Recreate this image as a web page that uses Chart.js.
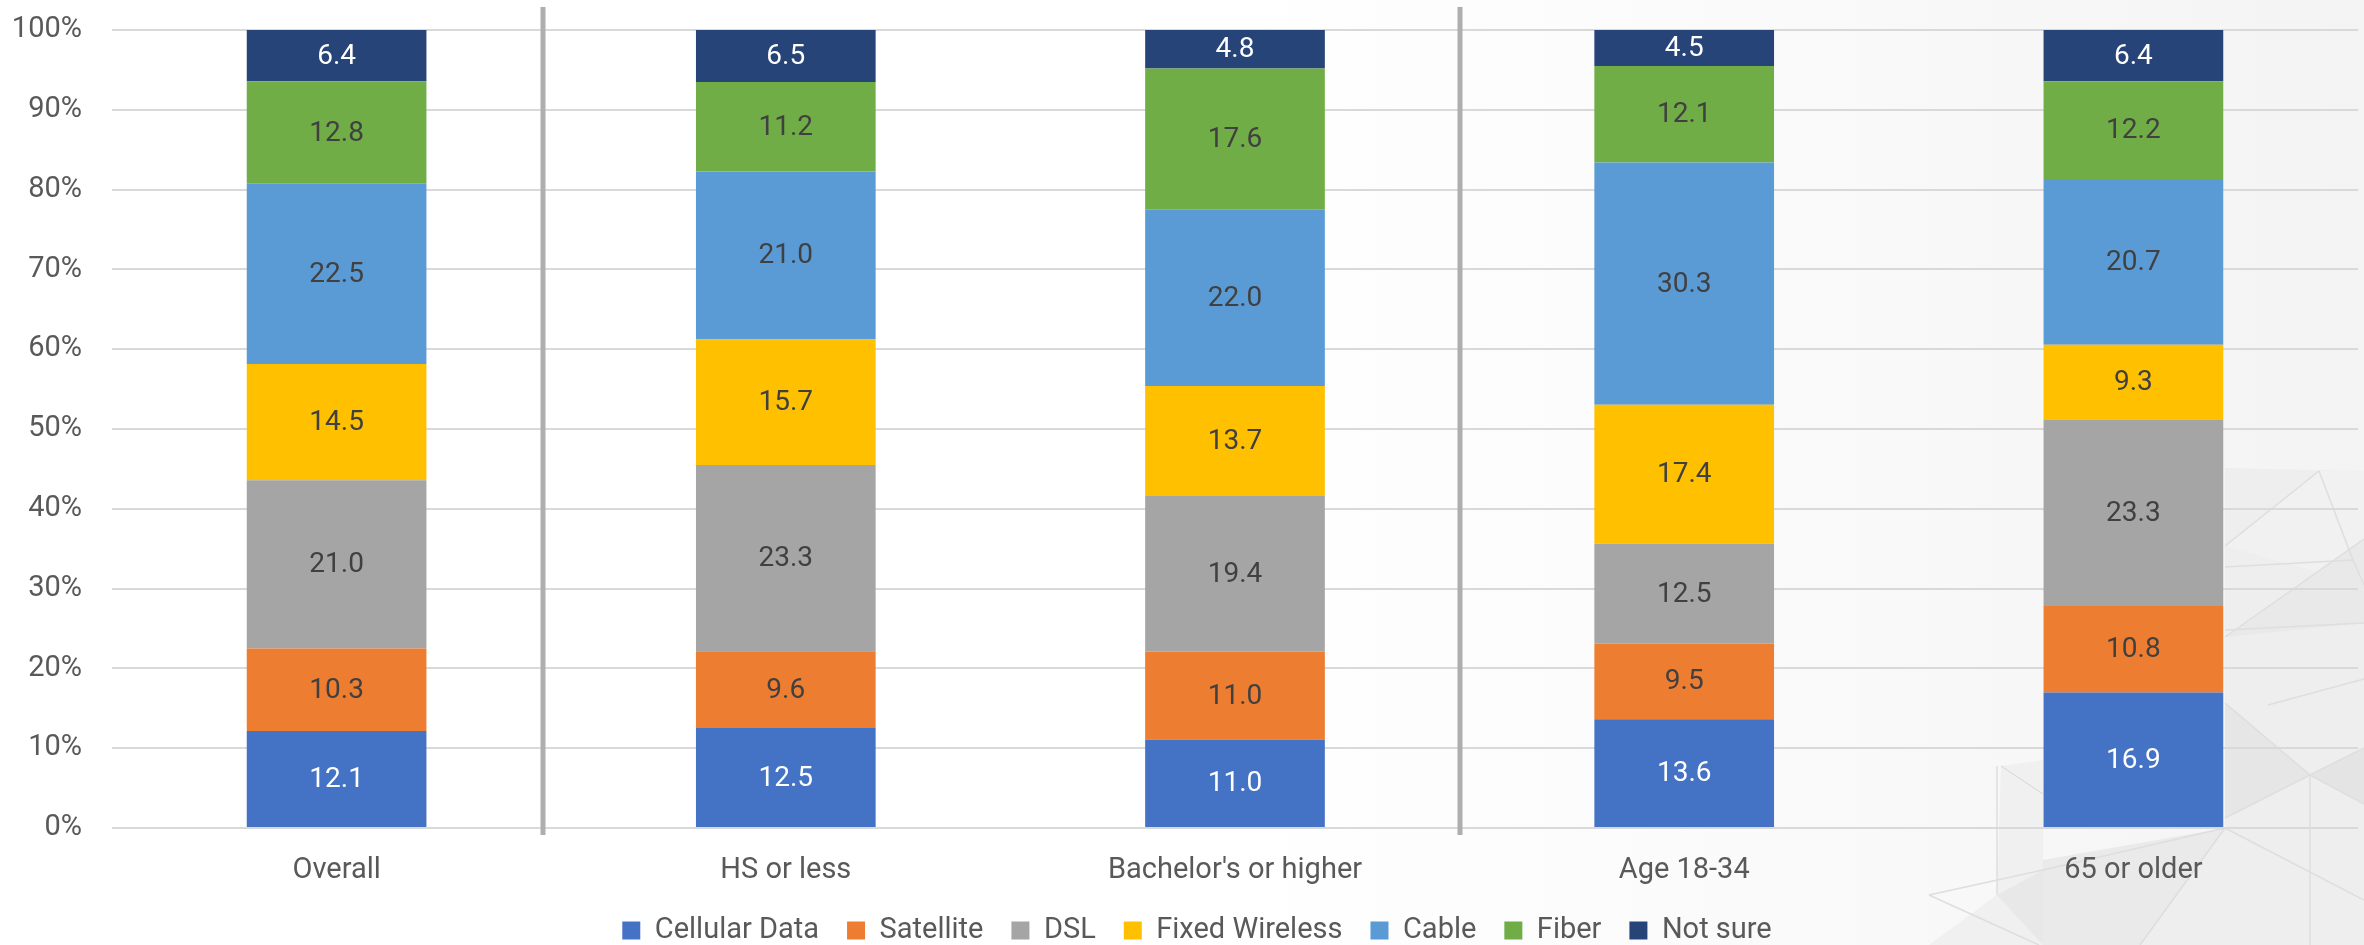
<!DOCTYPE html>
<html>
<head>
<meta charset="utf-8">
<script src="https://cdn.jsdelivr.net/npm/chart.js@4"></script>
<style>
  html, body { margin: 0; padding: 0; background: #ffffff; }
  #wrap { width: 2364px; height: 945px; position: relative; }
  canvas { display: block; }
</style>
</head>
<body>
<div id="wrap"><canvas id="c" width="2364" height="945"></canvas></div>
<script>
// ---- data ----
const categories = ["Overall", "HS or less", "Bachelor's or higher", "Age 18-34", "65 or older"];
const seriesNames = ["Cellular Data", "Satellite", "DSL", "Fixed Wireless", "Cable", "Fiber", "Not sure"];
const cellularData  = [12.1, 12.5, 11.0, 13.6, 16.9];
const satellite     = [10.3,  9.6, 11.0,  9.5, 10.8];
const dsl           = [21.0, 23.3, 19.4, 12.5, 23.3];
const fixedWireless = [14.5, 15.7, 13.7, 17.4,  9.3];
const cable         = [22.5, 21.0, 22.0, 30.3, 20.7];
const fiber         = [12.8, 11.2, 17.6, 12.1, 12.2];
const notSure       = [ 6.4,  6.5,  4.8,  4.5,  6.4];
const yTickLabels   = ["0%", "10%", "20%", "30%", "40%", "50%", "60%", "70%", "80%", "90%", "100%"];

// ---- styles ----
const seriesValues = [cellularData, satellite, dsl, fixedWireless, cable, fiber, notSure];
const seriesColors = ["#4472C4", "#ED7D31", "#A5A5A5", "#FFC000", "#5B9BD5", "#70AD47", "#264478"];
const labelColors  = ["#ffffff", "#404040", "#404040", "#404040", "#404040", "#404040", "#ffffff"];
const FONT = "Roboto";

// 100% stacked: each column is scaled to its own total
const totals = categories.map((_, i) => seriesValues.reduce((s, arr) => s + arr[i], 0));

const datasets = seriesNames.map((name, k) => ({
  label: name,
  data: seriesValues[k].map((v, i) => v / totals[i] * 100),
  rawValues: seriesValues[k],
  labelColor: labelColors[k],
  backgroundColor: seriesColors[k],
  borderWidth: 0,
  barPercentage: 0.4,
  categoryPercentage: 1.0
}));

const background = {
  id: 'background',
  beforeDraw(chart) {
    const ctx = chart.ctx;
    const W = chart.width, H = chart.height;
    ctx.save();
    ctx.fillStyle = '#ffffff';
    ctx.fillRect(0, 0, W, H);
    const g = ctx.createLinearGradient(1200, 0, W, 0);
    g.addColorStop(0, 'rgba(245,245,245,0)');
    g.addColorStop(1, 'rgba(242,242,242,0.9)');
    ctx.fillStyle = g;
    ctx.fillRect(1200, 0, W - 1200, H);
    const poly = (pts, fill) => {
      ctx.beginPath();
      ctx.moveTo(pts[0][0], pts[0][1]);
      for (let i = 1; i < pts.length; i++) ctx.lineTo(pts[i][0], pts[i][1]);
      ctx.closePath();
      ctx.fillStyle = fill;
      ctx.fill();
    };
    poly([[2225,468],[2364,471],[2364,945],[2140,945],[2225,828]], '#eeeeee');
    poly([[2225,546],[2319,471],[2364,471],[2364,585]], '#f1f1f1');
    poly([[2225,637],[2364,539],[2364,623]], '#e9e9e9');
    poly([[2225,703],[2310,775],[2225,818]], '#e6e6e6');
    poly([[2310,775],[2364,748],[2364,804]], '#e4e4e4');
    poly([[2001,766],[2043,760],[2043,945],[1929,945],[1997,895]], '#f0f0f0');
    poly([[1997,895],[2043,870],[2043,945]], '#e8e8e8');
    poly([[2043,860],[2225,828],[2140,945],[2043,945]], '#eaeaea');
    const line = (a, b) => { ctx.beginPath(); ctx.moveTo(a[0], a[1]); ctx.lineTo(b[0], b[1]); ctx.stroke(); };
    ctx.strokeStyle = '#dedede';
    ctx.lineWidth = 1.5;
    line([2319,471],[2225,546]);
    line([2319,471],[2353,560]); line([2353,560],[2364,585]);
    line([2225,567],[2353,560]);
    line([2225,637],[2364,539]);
    line([2225,630],[2364,623]);
    line([2268,705],[2364,679]);
    line([2225,703],[2310,775]);
    line([2310,775],[2364,804]);
    line([2225,818],[2310,775]);
    line([2310,775],[2310,945]);
    line([2310,775],[2364,748]);
    line([2225,828],[2140,945]);
    line([2225,828],[2364,900]);
    line([2001,766],[2043,794]);
    line([1997,766],[1997,895]);
    line([1929,895],[2039,945]);
    line([1929,895],[2043,870]);
    line([2043,870],[2225,828]);
    ctx.restore();
  }
};

const separators = {
  id: 'separators',
  beforeDatasetsDraw(chart, args, opts) {
    const ctx = chart.ctx, xs = chart.scales.x, area = chart.chartArea;
    ctx.save();
    ctx.strokeStyle = opts.color;
    ctx.lineWidth = opts.width;
    opts.at.forEach(v => {
      const px = Math.round(xs.getPixelForValue(v));
      ctx.beginPath();
      ctx.moveTo(px, area.top - opts.above);
      ctx.lineTo(px, area.bottom + opts.below);
      ctx.stroke();
    });
    ctx.restore();
  }
};

const valueLabels = {
  id: 'valueLabels',
  afterDatasetsDraw(chart, args, opts) {
    const ctx = chart.ctx;
    ctx.save();
    ctx.font = `${opts.size}px ${FONT}`;
    ctx.textAlign = 'center';
    ctx.textBaseline = 'middle';
    chart.data.datasets.forEach((ds, di) => {
      const meta = chart.getDatasetMeta(di);
      meta.data.forEach((el, i) => {
        ctx.fillStyle = ds.labelColor;
        ctx.fillText(ds.rawValues[i].toFixed(1), el.x, (el.y + el.base) / 2 + 1);
      });
    });
    ctx.restore();
  }
};

// nudge the legend block slightly right, as in the original layout
const legendShift = {
  id: 'legendShift',
  afterLayout(chart, args, opts) {
    if (chart.legend) {
      chart.legend.left += opts.dx;
      chart.legend.right += opts.dx;
    }
  }
};

new Chart(document.getElementById('c'), {
  type: 'bar',
  data: { labels: categories, datasets },
  plugins: [background, separators, valueLabels, legendShift],
  options: {
    responsive: false,
    animation: false,
    devicePixelRatio: 1,
    layout: { padding: { top: 30, right: 6, left: 0, bottom: -10 } },
    scales: {
      x: {
        stacked: true,
        grid: { display: false, drawTicks: false },
        border: { display: false },
        ticks: { color: '#595959', font: { family: FONT, size: 29 }, padding: 25 },
        afterFit(s) { s.height = 60; }
      },
      y: {
        stacked: true,
        min: 0, max: 100,
        ticks: {
          stepSize: 10,
          color: '#595959',
          font: { family: FONT, size: 29 },
          padding: 30,
          callback: (v) => yTickLabels[Math.round(v / 10)]
        },
        grid: { color: '#d9d9d9', lineWidth: 2, drawTicks: false },
        border: { display: false },
        afterFit(s) { s.width = 112; s.paddingTop = 0; s.paddingBottom = 0; }
      }
    },
    plugins: {
      legend: {
        position: 'bottom',
        labels: {
          boxWidth: 18, boxHeight: 18, padding: 28,
          color: '#595959',
          font: { family: FONT, size: 29 }
        }
      },
      tooltip: { enabled: false },
      separators: { at: [0.46, 2.5], color: '#b0adad', width: 5, above: 23, below: 7 },
      valueLabels: { size: 28 },
      legendShift: { dx: 18 }
    }
  }
});
</script>
</body>
</html>
